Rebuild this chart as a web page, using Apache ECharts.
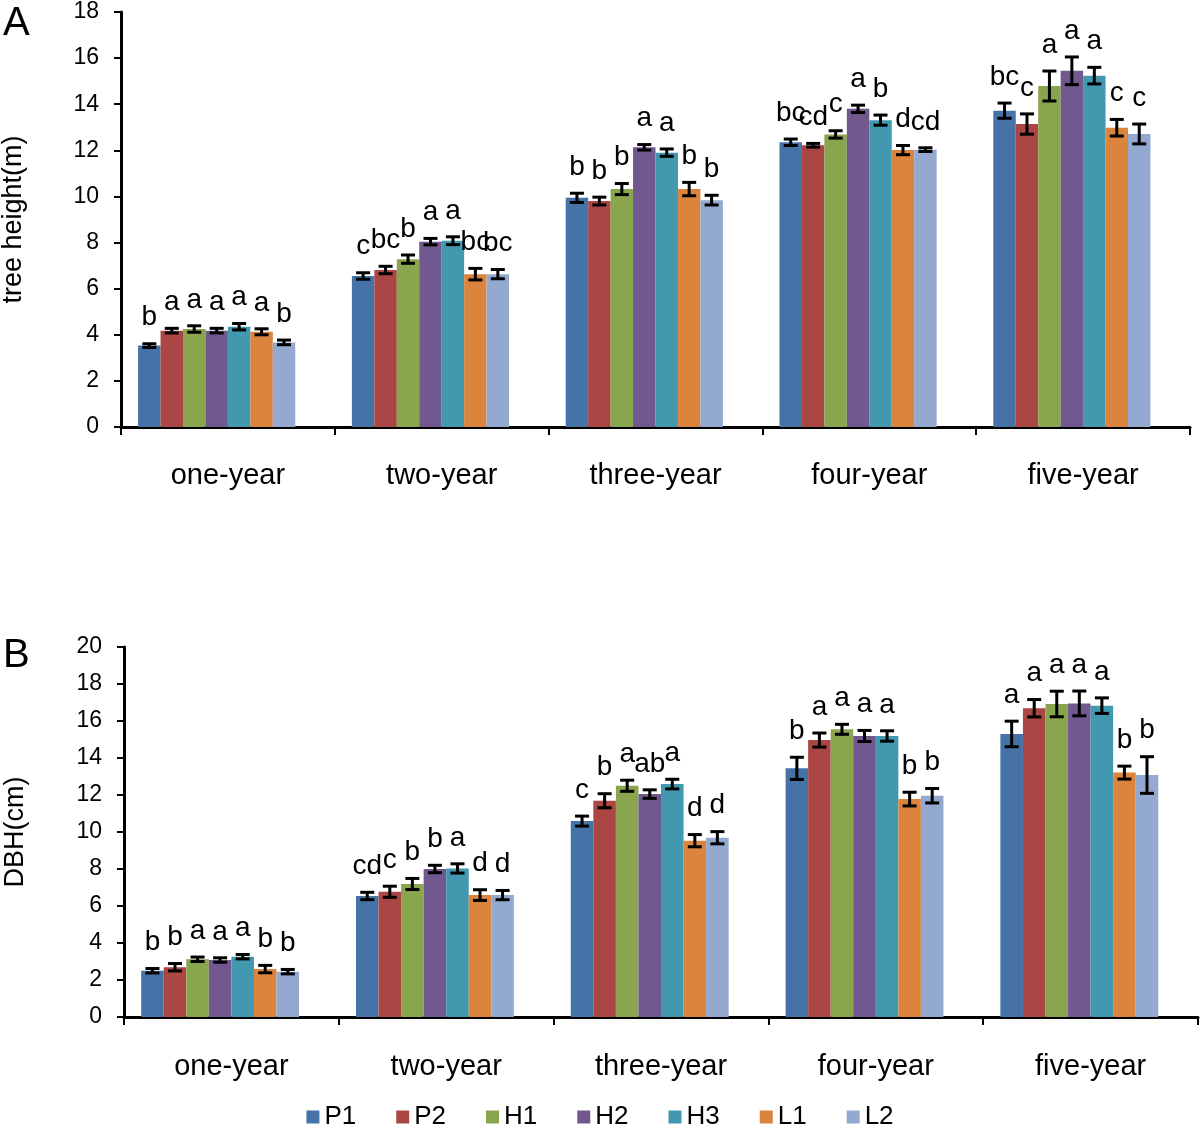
<!DOCTYPE html>
<html>
<head>
<meta charset="utf-8">
<script src="https://cdn.jsdelivr.net/npm/echarts@6/dist/echarts.min.js"></script>
<style>
html,body{margin:0;padding:0;background:#fff;}
#chart{width:1200px;height:1130px;}
</style>
</head>
<body>
<div id="chart"></div>
<script>
const categories = ['one-year', 'two-year', 'three-year', 'four-year', 'five-year'];
const seriesNames = ['P1', 'P2', 'H1', 'H2', 'H3', 'L1', 'L2'];

// Panel A: tree height (m)
const heightP1 = [3.53, 6.55, 9.94, 12.35, 13.72];
const heightP2 = [4.18, 6.81, 9.80, 12.22, 13.14];
const heightH1 = [4.25, 7.28, 10.32, 12.69, 14.79];
const heightH2 = [4.18, 8.04, 12.13, 13.80, 15.45];
const heightH3 = [4.35, 8.08, 11.90, 13.31, 15.24];
const heightL1 = [4.13, 6.63, 10.32, 12.01, 12.98];
const heightL2 = [3.67, 6.63, 9.84, 12.03, 12.71];

const heightErrP1 = [0.08, 0.14, 0.20, 0.14, 0.33];
const heightErrP2 = [0.10, 0.16, 0.17, 0.08, 0.44];
const heightErrH1 = [0.14, 0.18, 0.24, 0.16, 0.65];
const heightErrH2 = [0.10, 0.14, 0.12, 0.16, 0.60];
const heightErrH3 = [0.14, 0.17, 0.16, 0.22, 0.36];
const heightErrL1 = [0.13, 0.25, 0.29, 0.20, 0.36];
const heightErrL2 = [0.10, 0.20, 0.21, 0.08, 0.43];

const heightLetP1 = ['b', 'c', 'b', 'bc', 'bc'];
const heightLetP2 = ['a', 'bc', 'b', 'cd', 'c'];
const heightLetH1 = ['a', 'b', 'b', 'c', 'a'];
const heightLetH2 = ['a', 'a', 'a', 'a', 'a'];
const heightLetH3 = ['a', 'a', 'a', 'b', 'a'];
const heightLetL1 = ['a', 'bc', 'b', 'd', 'c'];
const heightLetL2 = ['b', 'bc', 'b', 'cd', 'c'];

// Panel B: DBH (cm)
const dbhP1 = [2.50, 6.54, 10.59, 13.44, 15.30];
const dbhP2 = [2.69, 6.77, 11.69, 14.97, 16.69];
const dbhH1 = [3.12, 7.19, 12.50, 15.55, 16.92];
const dbhH2 = [3.08, 8.00, 12.05, 15.19, 16.95];
const dbhH3 = [3.26, 8.03, 12.59, 15.19, 16.83];
const dbhL1 = [2.59, 6.59, 9.53, 11.78, 13.21];
const dbhL2 = [2.45, 6.59, 9.69, 11.96, 13.08];

const dbhErrP1 = [0.12, 0.20, 0.27, 0.60, 0.69];
const dbhErrP2 = [0.20, 0.30, 0.38, 0.38, 0.47];
const dbhErrH1 = [0.12, 0.30, 0.30, 0.27, 0.69];
const dbhErrH2 = [0.12, 0.20, 0.23, 0.30, 0.67];
const dbhErrH3 = [0.12, 0.25, 0.26, 0.28, 0.42];
const dbhErrL1 = [0.20, 0.29, 0.33, 0.37, 0.35];
const dbhErrL2 = [0.12, 0.25, 0.33, 0.39, 0.99];

const dbhLetP1 = ['b', 'cd', 'c', 'b', 'a'];
const dbhLetP2 = ['b', 'c', 'b', 'a', 'a'];
const dbhLetH1 = ['a', 'b', 'a', 'a', 'a'];
const dbhLetH2 = ['a', 'b', 'ab', 'a', 'a'];
const dbhLetH3 = ['a', 'a', 'a', 'a', 'a'];
const dbhLetL1 = ['b', 'd', 'd', 'b', 'b'];
const dbhLetL2 = ['b', 'd', 'd', 'b', 'b'];

const yTicksA = ['0', '2', '4', '6', '8', '10', '12', '14', '16', '18'];
const yTicksB = ['0', '2', '4', '6', '8', '10', '12', '14', '16', '18', '20'];

const heightMeans = [heightP1, heightP2, heightH1, heightH2, heightH3, heightL1, heightL2];
const heightErrs = [heightErrP1, heightErrP2, heightErrH1, heightErrH2, heightErrH3, heightErrL1, heightErrL2];
const heightLets = [heightLetP1, heightLetP2, heightLetH1, heightLetH2, heightLetH3, heightLetL1, heightLetL2];
const dbhMeans = [dbhP1, dbhP2, dbhH1, dbhH2, dbhH3, dbhL1, dbhL2];
const dbhErrs = [dbhErrP1, dbhErrP2, dbhErrH1, dbhErrH2, dbhErrH3, dbhErrL1, dbhErrL2];
const dbhLets = [dbhLetP1, dbhLetP2, dbhLetH1, dbhLetH2, dbhLetH3, dbhLetL1, dbhLetL2];

const palette = ['#4572A7', '#AA4643', '#89A54E', '#71588F', '#4198AF', '#DB843D', '#93A9CF'];
const FONT = 'Liberation Sans, Arial, sans-serif';
const GAP = 0.16;
const SLOTS = seriesNames.length + 1; // one empty slot after L2, as in the source layout

function buildErrData(means, errs) {
  const d = [];
  for (let s = 0; s < means.length; s++) {
    for (let c = 0; c < categories.length; c++) {
      d.push([c, s, means[s][c], errs[s][c]]);
    }
  }
  return d;
}

function makeRender(letters) {
  return function (params, api) {
    const c = api.value(0), s = api.value(1), v = api.value(2), e = api.value(3);
    const band = api.size([1, 0])[0];
    const groupW = band * (1 - GAP);
    const barW = groupW / SLOTS;
    const base = api.coord([c, v]);
    const x = base[0] - groupW / 2 + (s + 0.5) * barW;
    const yT = api.coord([c, v + e])[1];
    const yB = api.coord([c, v - e])[1];
    const cap = 7;
    const st = { stroke: '#000', lineWidth: 3 };
    return {
      type: 'group',
      children: [
        { type: 'line', shape: { x1: x, y1: yT, x2: x, y2: yB }, style: st },
        { type: 'line', shape: { x1: x - cap, y1: yT, x2: x + cap, y2: yT }, style: st },
        { type: 'line', shape: { x1: x - cap, y1: yB, x2: x + cap, y2: yB }, style: st },
        { type: 'text', style: { x: x, y: yT - 12, text: letters[s][c], fill: '#000',
          font: '28px ' + FONT, textAlign: 'center', textVerticalAlign: 'bottom' } }
      ]
    };
  };
}

const series = [];
[0, 1].forEach(g => {
  const means = g === 0 ? heightMeans : dbhMeans;
  seriesNames.forEach((n, i) => {
    series.push({ name: n, type: 'bar', xAxisIndex: g, yAxisIndex: g, data: means[i],
      barGap: '0%', barCategoryGap: (GAP * 100) + '%', itemStyle: { color: palette[i] }, animation: false });
  });
  // empty spacer slot
  series.push({ name: '', type: 'bar', xAxisIndex: g, yAxisIndex: g, data: categories.map(() => null),
    barGap: '0%', barCategoryGap: (GAP * 100) + '%', silent: true, animation: false });
});
series.push({ type: 'custom', xAxisIndex: 0, yAxisIndex: 0, renderItem: makeRender(heightLets),
  data: buildErrData(heightMeans, heightErrs), encode: { x: 0, y: 2 }, z: 10, clip: false, silent: true, animation: false });
series.push({ type: 'custom', xAxisIndex: 1, yAxisIndex: 1, renderItem: makeRender(dbhLets),
  data: buildErrData(dbhMeans, dbhErrs), encode: { x: 0, y: 2 }, z: 10, clip: false, silent: true, animation: false });

function xAxisCfg(gi, margin) {
  return {
    type: 'category', gridIndex: gi, data: categories,
    axisLine: { lineStyle: { color: '#000', width: 3 } },
    axisTick: { show: true, alignWithLabel: false, length: 8, lineStyle: { color: '#000', width: 2 } },
    axisLabel: { color: '#000', fontSize: 29, fontFamily: FONT, margin: margin }
  };
}
function yAxisCfg(gi, max, name, ticks, gap) {
  return {
    type: 'value', gridIndex: gi, min: 0, max: max, interval: 2,
    name: name, nameLocation: 'middle', nameGap: gap,
    nameTextStyle: { color: '#000', fontSize: 27, fontFamily: FONT },
    axisLine: { show: true, lineStyle: { color: '#000', width: 3 } },
    axisTick: { show: true, length: 7, lineStyle: { color: '#000', width: 2 } },
    axisLabel: { color: '#000', fontSize: 23, fontFamily: FONT, margin: 22,
      formatter: v => ticks[Math.round(v / 2)] },
    splitLine: { show: false }
  };
}

const chart = echarts.init(document.getElementById('chart'), null, { renderer: 'canvas' });
chart.setOption({
  backgroundColor: '#fff',
  animation: false,
  grid: [
    { left: 121, width: 1069, top: 12, height: 415, containLabel: false, outerBoundsMode: 'none' },
    { left: 124, width: 1074, top: 647, height: 370, containLabel: false, outerBoundsMode: 'none' }
  ],
  xAxis: [xAxisCfg(0, 34), xAxisCfg(1, 35)],
  yAxis: [yAxisCfg(0, 18, 'tree height(m)', yTicksA, 94), yAxisCfg(1, 20, 'DBH(cm)', yTicksB, 95)],
  legend: {
    data: seriesNames, top: 1099, left: 'center', icon: 'rect', itemWidth: 13, itemHeight: 13,
    itemGap: 40, textStyle: { color: '#000', fontSize: 26, fontFamily: FONT }
  },
  graphic: [
    { type: 'text', left: 3, top: 4, style: { text: 'A', font: '40px ' + FONT, fill: '#000' } },
    { type: 'text', left: 3, top: 636, style: { text: 'B', font: '40px ' + FONT, fill: '#000' } }
  ],
  series: series
});
</script>
</body>
</html>
